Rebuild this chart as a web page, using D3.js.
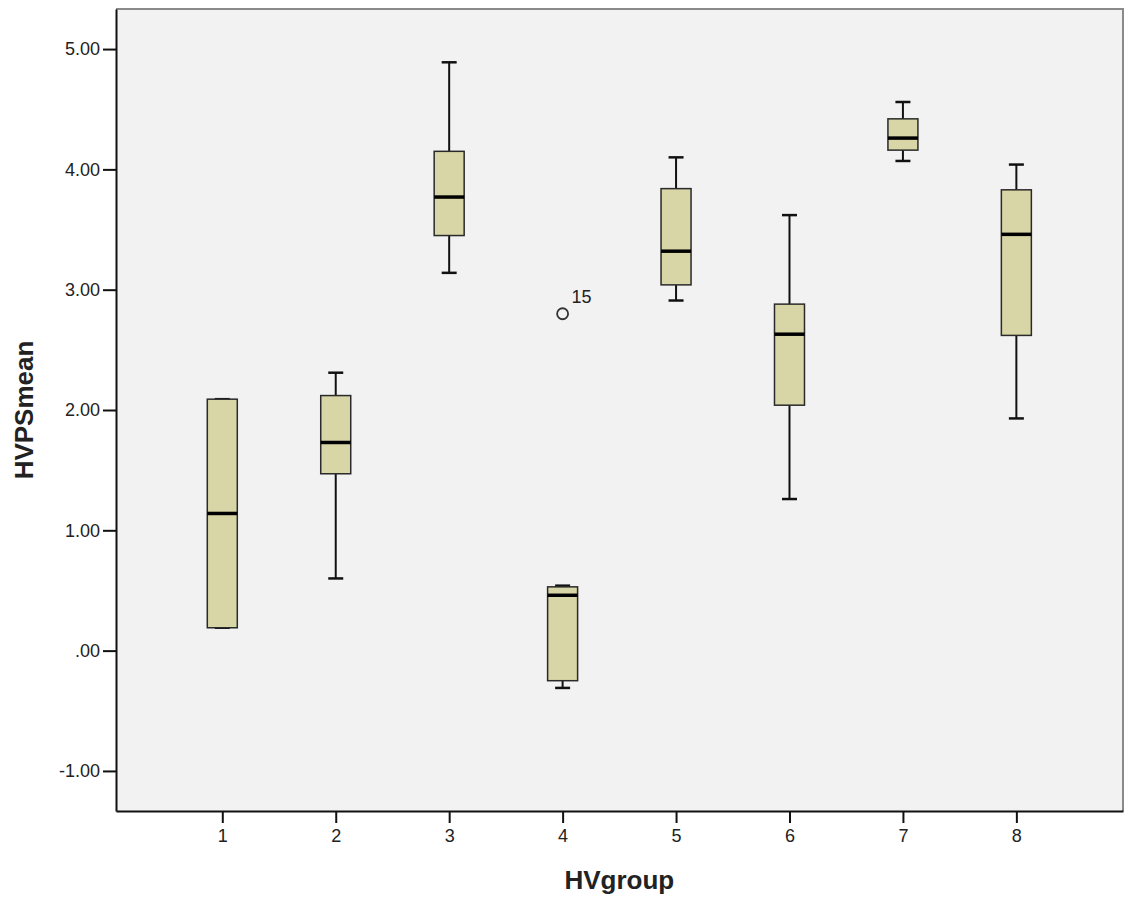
<!DOCTYPE html>
<html>
<head>
<meta charset="utf-8">
<script src="https://cdn.jsdelivr.net/npm/d3@7"></script>
<style>
  body { margin: 0; background: #fff; }
  svg text { font-family: "Liberation Sans", Arial, sans-serif; fill: #222; }
</style>
</head>
<body>
<svg id="chart" width="1125" height="901"></svg>
<script>
// box plot values
const groups = [1, 2, 3, 4, 5, 6, 7, 8];
const mins    = [0.19, 0.60, 3.14, -0.31, 2.91, 1.26, 4.07, 1.93];
const q1s     = [0.19, 1.47, 3.45, -0.25, 3.04, 2.04, 4.16, 2.62];
const medians = [1.14, 1.73, 3.77, 0.46, 3.32, 2.63, 4.26, 3.46];
const q3s     = [2.09, 2.12, 4.15, 0.53, 3.84, 2.88, 4.42, 3.83];
const maxs    = [2.09, 2.31, 4.89, 0.54, 4.10, 3.62, 4.56, 4.04];

const outlierGroups = [4];
const outlierValues = [2.80];
const outlierLabels = ["15"];

const yTicks = [-1, 0, 1, 2, 3, 4, 5];

const svg = d3.select('#chart');

// plot frame
const plotLeft = 116, plotRight = 1123, plotTop = 9, plotBottom = 811;

const x = d3.scaleLinear().domain([0.063, 8.94]).range([plotLeft, plotRight]);
const y = d3.scaleLinear().domain([-1.333, 5.333]).range([plotBottom, plotTop]);

svg.append('rect')
  .attr('x', plotLeft).attr('y', plotTop)
  .attr('width', plotRight - plotLeft).attr('height', plotBottom - plotTop)
  .attr('fill', '#f2f2f2');

// top and right border are grey
svg.append('path')
  .attr('d', `M${plotLeft},${plotTop}H${plotRight}V${plotBottom}`)
  .attr('fill', 'none')
  .attr('stroke', '#8a8a8a')
  .attr('stroke-width', 2);

// SPSS style labels: ".00", "-1.00" with a plain hyphen
const fmt = d3.formatLocale({ decimal: '.', thousands: ',', grouping: [3], currency: ['', ''], minus: '-' }).format('.2f');

// y axis
const yAxis = d3.axisLeft(y)
  .tickValues(yTicks)
  .tickSize(13)
  .tickSizeOuter(0)
  .tickPadding(3)
  .tickFormat(d => fmt(d).replace(/^0\./, '.'));

const gy = svg.append('g')
  .attr('transform', `translate(${plotLeft},0)`)
  .call(yAxis);
gy.select('.domain').attr('stroke', '#111').attr('stroke-width', 2);
gy.selectAll('.tick line').attr('stroke', '#111').attr('stroke-width', 2);
gy.selectAll('.tick text').style('font-size', '18px').attr('fill', '#222');

// x axis
const xAxis = d3.axisBottom(x)
  .tickValues(groups)
  .tickSize(12)
  .tickSizeOuter(0)
  .tickPadding(6)
  .tickFormat(d3.format('d'));

const gx = svg.append('g')
  .attr('transform', `translate(0,${plotBottom})`)
  .call(xAxis);
gx.select('.domain').attr('stroke', '#111').attr('stroke-width', 2);
gx.selectAll('.tick line').attr('stroke', '#111').attr('stroke-width', 2);
gx.selectAll('.tick text').style('font-size', '18px').attr('fill', '#222');

// axis titles
svg.append('text')
  .attr('x', x(4.5))
  .attr('y', 889)
  .attr('text-anchor', 'middle')
  .style('font-size', '26px')
  .style('font-weight', 'bold')
  .attr('fill', '#111')
  .text('HVgroup');

svg.append('text')
  .attr('transform', `translate(33,${(plotTop + plotBottom) / 2}) rotate(-90)`)
  .attr('text-anchor', 'middle')
  .style('font-size', '26px')
  .style('font-weight', 'bold')
  .attr('fill', '#111')
  .text('HVPSmean');

// boxes
const boxHalf = 15, capHalf = 7.5;
const boxes = svg.append('g');

groups.forEach((g, i) => {
  const cx = x(g);
  const b = boxes.append('g');

  // whiskers
  b.append('line')
    .attr('x1', cx).attr('x2', cx)
    .attr('y1', y(maxs[i])).attr('y2', y(q3s[i]))
    .attr('stroke', '#111').attr('stroke-width', 2);
  b.append('line')
    .attr('x1', cx).attr('x2', cx)
    .attr('y1', y(q1s[i])).attr('y2', y(mins[i]))
    .attr('stroke', '#111').attr('stroke-width', 2);

  // caps
  [mins[i], maxs[i]].forEach(v => {
    b.append('line')
      .attr('x1', cx - capHalf).attr('x2', cx + capHalf)
      .attr('y1', y(v)).attr('y2', y(v))
      .attr('stroke', '#111').attr('stroke-width', 2.5);
  });

  // box
  b.append('rect')
    .attr('x', cx - boxHalf)
    .attr('y', y(q3s[i]))
    .attr('width', boxHalf * 2)
    .attr('height', y(q1s[i]) - y(q3s[i]))
    .attr('fill', '#d8d5a6')
    .attr('stroke', '#2a2a2a')
    .attr('stroke-width', 1.5);

  // median
  b.append('line')
    .attr('x1', cx - boxHalf).attr('x2', cx + boxHalf)
    .attr('y1', y(medians[i])).attr('y2', y(medians[i]))
    .attr('stroke', '#000').attr('stroke-width', 3.5);
});

// outliers
outlierGroups.forEach((g, i) => {
  const cx = x(g), cy = y(outlierValues[i]);
  svg.append('circle')
    .attr('cx', cx).attr('cy', cy).attr('r', 5.5)
    .attr('fill', 'none')
    .attr('stroke', '#333')
    .attr('stroke-width', 1.8);
  svg.append('text')
    .attr('x', cx + 9)
    .attr('y', cy - 11)
    .style('font-size', '18px')
    .attr('fill', '#222')
    .text(outlierLabels[i]);
});
</script>
</body>
</html>
